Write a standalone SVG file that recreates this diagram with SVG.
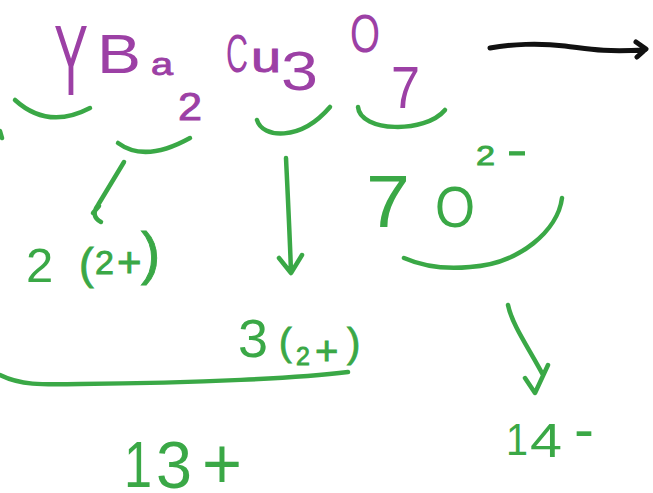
<svg xmlns="http://www.w3.org/2000/svg" width="653" height="493" viewBox="0 0 653 493">
<style>
text{font-family:"Liberation Sans",Arial,sans-serif;}
.p{fill:#9c40a5;}
.g{fill:#3aa846;}
.s{stroke-width:0.9;}
.p.s{stroke:#9c40a5;}
.g .s,.g.s{stroke:#3aa846;}
.gl{fill:none;stroke:#3aa846;stroke-width:4.5;stroke-linecap:round;stroke-linejoin:round;}
.bl{fill:none;stroke:#111;stroke-width:5;stroke-linecap:round;stroke-linejoin:round;}
</style>
<rect width="653" height="493" fill="#fff"/>
<g id="formula">
<text class="p" x="54" y="95" font-size="100" textLength="34" lengthAdjust="spacingAndGlyphs">Y</text>
<text class="p" x="97" y="73" font-size="56" textLength="44" lengthAdjust="spacingAndGlyphs">B</text>
<text class="p s" x="151" y="75" font-size="32" textLength="22" lengthAdjust="spacingAndGlyphs">a</text>
<text class="p s" x="178" y="120" font-size="38" textLength="24" lengthAdjust="spacingAndGlyphs">2</text>
<text class="p" x="226" y="72" font-size="54" textLength="22" lengthAdjust="spacingAndGlyphs">C</text>
<text class="p s" x="251" y="72" font-size="42" textLength="30" lengthAdjust="spacingAndGlyphs">u</text>
<text class="p" x="281" y="90" font-size="56" textLength="37" lengthAdjust="spacingAndGlyphs">3</text>
<text class="p" x="350" y="52" font-size="53" textLength="30" lengthAdjust="spacingAndGlyphs">O</text>
<text class="p" x="391" y="108" font-size="60" textLength="29" lengthAdjust="spacingAndGlyphs">7</text>
</g>
<g id="oxide">
<text class="g" x="366" y="227" font-size="75" textLength="44" lengthAdjust="spacingAndGlyphs">7</text>
<text class="g" x="435" y="227" font-size="57" textLength="40" lengthAdjust="spacingAndGlyphs">O</text>
<text class="g s" x="476" y="165" font-size="28" textLength="19" lengthAdjust="spacingAndGlyphs">2</text>
<text class="g s" x="507" y="164" font-size="40" textLength="20" lengthAdjust="spacingAndGlyphs">-</text>
</g>
<g id="barium">
<text class="g"><tspan x="26" y="282" font-size="49">2</tspan> <tspan x="79" y="279" font-size="44" class="s">(</tspan><tspan x="95" y="274" font-size="34" class="s">2</tspan><tspan x="117" y="277" font-size="42" class="s">+</tspan><tspan x="141" y="273" font-size="58" class="s">)</tspan></text>
</g>
<g id="copper">
<text class="g"><tspan x="238" y="357" font-size="54">3</tspan><tspan x="279" y="355" font-size="38" class="s">(</tspan><tspan x="296" y="365" font-size="25" class="s">2</tspan><tspan x="315" y="365" font-size="40" class="s">+</tspan><tspan x="347" y="357" font-size="40" class="s">)</tspan></text>
</g>
<g id="total-plus">
<text class="g"><tspan x="124" y="487" font-size="64" textLength="28" lengthAdjust="spacingAndGlyphs">1</tspan><tspan x="156" y="488" font-size="66" textLength="36" lengthAdjust="spacingAndGlyphs">3</tspan><tspan x="202" y="488" font-size="72" textLength="40" lengthAdjust="spacingAndGlyphs">+</tspan></text>
</g>
<g id="total-minus">
<text class="g"><tspan x="506" y="455" font-size="45" textLength="22" lengthAdjust="spacingAndGlyphs">1</tspan><tspan x="530" y="457" font-size="48" textLength="32" lengthAdjust="spacingAndGlyphs">4</tspan><tspan x="574" y="449" font-size="60">-</tspan></text>
</g>
<g id="connectors">
<path class="bl" d="M490,48 C510,44 540,43 565,46 C590,49 600,52 645,50 M636,42 L646,49 L637,57"/>
<path class="gl" d="M15,100 Q48,130 90,108"/>
<path class="gl" d="M118,143 Q145,163 190,138"/>
<path class="gl" d="M257,120 C262,138 300,142 330,107"/>
<path class="gl" d="M358,107 C360,132 425,134 445,110"/>
<path class="gl" d="M562,198 C558,230 520,264 470,267 C440,270 420,265 404,258"/>
<path class="gl" d="M0,375 C20,385 40,385 80,384 C200,383 300,378 348,372"/>
<path class="gl" d="M0,131 L2,138"/>
<path class="gl" d="M124,162 L98,205 Q90,216 101,222 M93,213 L99,206"/>
<path class="gl" d="M286,158 C288,200 290,240 291,273 M279,258 L291,273 L302,255"/>
<path class="gl" d="M508,305 C512,325 530,350 543,375 M525,378 L535,393 L548,365"/>
</g>
</svg>
